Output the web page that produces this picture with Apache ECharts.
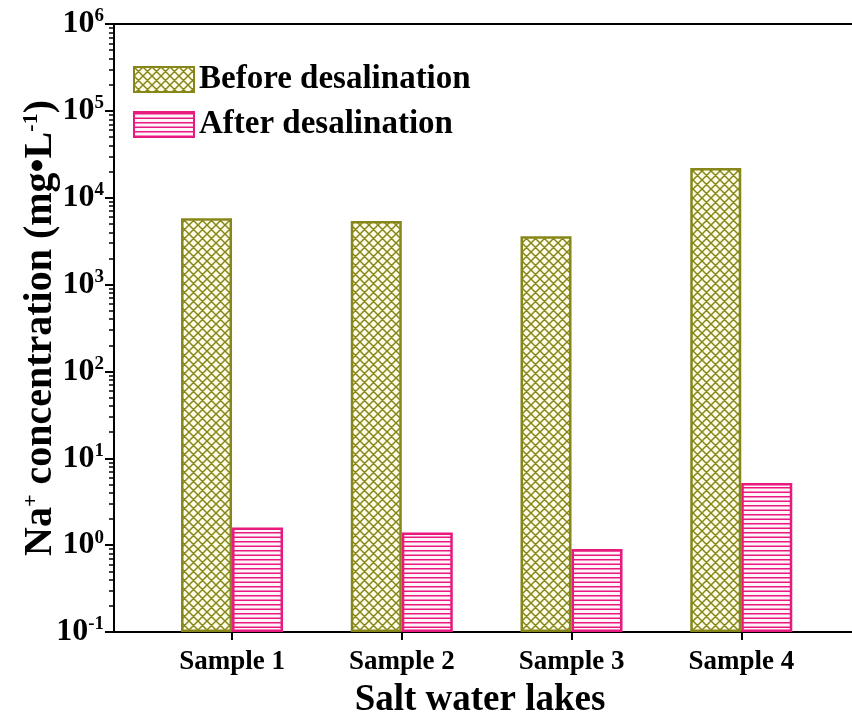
<!DOCTYPE html>
<html>
<head>
<meta charset="utf-8">
<script src="https://cdn.jsdelivr.net/npm/echarts@6/dist/echarts.min.js"></script>
<style>
  html, body { margin: 0; padding: 0; background: #ffffff; }
  #chart { width: 852px; height: 719px; }
</style>
</head>
<body>
<div id="chart"></div>
<script>
// Na+ concentration of four salt water lakes, before and after desalination
const categories = ['Sample 1', 'Sample 2', 'Sample 3', 'Sample 4'];
const seriesNames = ['Before desalination', 'After desalination'];
const beforeValues = [5800, 5400, 3600, 22000];   // mg/L
const afterValues = [1.6, 1.4, 0.9, 5.2];         // mg/L
const decadeExponents = [-1, 0, 1, 2, 3, 4, 5, 6]; // y tick labels 10^n

const FONT = '"Liberation Serif", "Times New Roman", serif';
const OLIVE = '#86861a';
const PINK = '#e8197f';

// category positions on the numeric x axis
const positions = categories.map((c, i) => i + 1);

// log-spaced minor ticks (2..9 x 10^n), expressed as exponents
const minorExponents = [];
for (let e = decadeExponents[0]; e < decadeExponents[decadeExponents.length - 1]; e++) {
  for (let m = 2; m <= 9; m++) minorExponents.push(e + Math.log10(m));
}

// fill patterns
function crossHatchPattern() {
  const s = 9;
  const c = document.createElement('canvas');
  c.width = s; c.height = s;
  const g = c.getContext('2d');
  g.fillStyle = '#fcfce8';
  g.fillRect(0, 0, s, s);
  g.strokeStyle = OLIVE;
  g.lineWidth = 1.5;
  g.beginPath();
  for (let k = -1; k <= 1; k++) {
    g.moveTo(-2, -2 + k * s); g.lineTo(s + 2, s + 2 + k * s);
    g.moveTo(s + 2, -2 + k * s); g.lineTo(-2, s + 2 + k * s);
  }
  g.stroke();
  return c;
}
function stripePattern() {
  const w = 4, h = 9;
  const c = document.createElement('canvas');
  c.width = w; c.height = h;
  const g = c.getContext('2d');
  g.fillStyle = '#fff4f9';
  g.fillRect(0, 0, w, h);
  g.fillStyle = PINK;
  g.fillRect(0, 1, w, 1.5);
  g.fillRect(0, 5.5, w, 1.5);
  return c;
}

const chart = echarts.init(document.getElementById('chart'), null, { renderer: 'canvas' });

const xBase = {
  type: 'value',
  min: 0.3046,
  max: 5,
  splitLine: { show: false }
};

chart.setOption({
  backgroundColor: '#ffffff',
  animation: false,
  grid: { left: 114, top: 24, width: 797, height: 608, containLabel: false, outerBoundsMode: 'none' },
  legend: {
    data: seriesNames,
    orient: 'vertical',
    left: 133,
    top: 63,
    padding: 0,
    itemWidth: 60,
    itemHeight: 25,
    itemGap: 12,
    icon: 'rect',
    textStyle: { fontFamily: FONT, fontWeight: 'bold', fontSize: 33, color: '#000' }
  },
  xAxis: [
    Object.assign({}, xBase, {
      position: 'bottom',
      name: 'Salt water lakes',
      nameLocation: 'middle',
      nameGap: 50,
      nameTextStyle: {
        fontFamily: FONT, fontWeight: 'bold', fontSize: 37, color: '#000',
        padding: [0, 65, 0, 0]
      },
      axisLine: { show: true, onZero: false, lineStyle: { color: '#000', width: 2 } },
      axisTick: { show: true, length: 8, lineStyle: { color: '#000', width: 2 }, customValues: positions },
      axisLabel: {
        customValues: positions,
        formatter: v => categories[Math.round(v) - 1],
        fontFamily: FONT, fontWeight: 'bold', fontSize: 27, color: '#000', margin: 17
      }
    }),
    Object.assign({}, xBase, {
      position: 'top',
      axisLine: { show: true, onZero: false, lineStyle: { color: '#000', width: 2 } },
      axisTick: { show: false },
      axisLabel: { show: false }
    })
  ],
  yAxis: [
    {
      // value scale for the bars
      type: 'log',
      logBase: 10,
      min: 0.1,
      max: 1e6,
      startValue: 0.1,
      show: false,
      splitLine: { show: false }
    },
    {
      // decade ticks and labels, in exponent units
      type: 'value',
      min: -1,
      max: 6,
      interval: 1,
      position: 'left',
      splitLine: { show: false },
      axisLine: { show: true, onZero: false, lineStyle: { color: '#000', width: 2 } },
      axisTick: { show: true, length: 9, lineStyle: { color: '#000', width: 2 } },
      axisLabel: {
        margin: 10,
        formatter: v => '{b|10}{s|' + v + '}',
        rich: {
          b: { fontFamily: FONT, fontWeight: 'bold', fontSize: 32, color: '#000', lineHeight: 34 },
          s: { fontFamily: FONT, fontWeight: 'bold', fontSize: 19, color: '#000', verticalAlign: 'top', lineHeight: 34 }
        }
      },
      name: '{n|Na}{s|+}{n| concentration (mg•L}{s|-1}{n|)}',
      nameLocation: 'middle',
      nameRotate: 90,
      nameGap: 52,
      nameMoveOverlap: false,
      nameTextStyle: {
        rich: {
          n: { fontFamily: FONT, fontWeight: 'bold', fontSize: 40, color: '#000', lineHeight: 42 },
          s: { fontFamily: FONT, fontWeight: 'bold', fontSize: 22, color: '#000', verticalAlign: 'top', lineHeight: 42 }
        }
      }
    },
    {
      // log-spaced minor ticks
      type: 'value',
      min: -1,
      max: 6,
      position: 'left',
      splitLine: { show: false },
      axisLine: { show: false },
      axisLabel: { show: false },
      axisTick: { show: true, length: 5, lineStyle: { color: '#000', width: 1.5 }, customValues: minorExponents }
    }
  ],
  series: [
    {
      name: seriesNames[0],
      type: 'bar',
      xAxisIndex: 0,
      yAxisIndex: 0,
      barWidth: 51,
      barGap: '0%',
      itemStyle: {
        color: { image: crossHatchPattern(), repeat: 'repeat' },
        borderColor: OLIVE,
        borderWidth: 2.5
      },
      data: positions.map((p, i) => [p, beforeValues[i]])
    },
    {
      name: seriesNames[1],
      type: 'bar',
      xAxisIndex: 0,
      yAxisIndex: 0,
      barWidth: 51,
      barGap: '0%',
      itemStyle: {
        color: { image: stripePattern(), repeat: 'repeat' },
        borderColor: PINK,
        borderWidth: 2.5
      },
      data: positions.map((p, i) => [p, afterValues[i]])
    }
  ]
});
</script>
</body>
</html>
